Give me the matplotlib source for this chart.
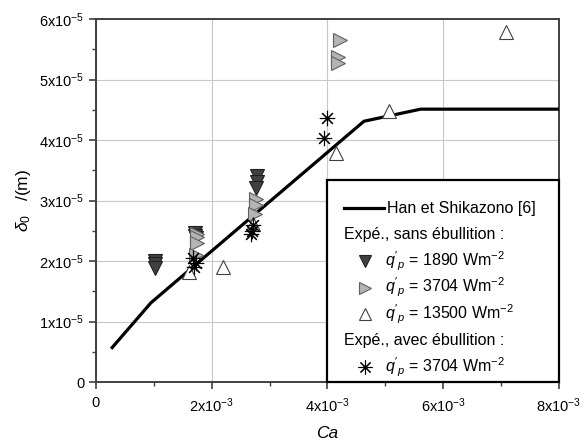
import matplotlib
matplotlib.use("Agg")
import matplotlib.pyplot as plt
from matplotlib.patches import Rectangle
from matplotlib.ticker import MultipleLocator

plt.rcParams['font.family'] = ['Liberation Sans', 'DejaVu Sans']
plt.rcParams['mathtext.fontset'] = 'custom'
plt.rcParams['mathtext.rm'] = 'Liberation Sans'
plt.rcParams['mathtext.it'] = 'Liberation Sans:italic'

# Han et Shikazono correlation
han_ca = [0.28e-3, 0.95e-3, 4.63e-3, 5.61e-3, 8.0e-3]
han_delta = [0.57e-5, 1.31e-5, 4.31e-5, 4.51e-5, 4.51e-5]

# Expe. sans ebullition, q'p = 1890
ca_1890 = [1.02e-3, 1.02e-3, 1.02e-3, 1.71e-3, 1.71e-3, 1.72e-3,
           2.78e-3, 2.78e-3, 2.77e-3]
d_1890 = [2.0e-5, 1.95e-5, 1.88e-5, 2.47e-5, 2.42e-5, 2.38e-5,
          3.4e-5, 3.3e-5, 3.2e-5]

# q'p = 3704
ca_3704 = [1.75e-3, 1.75e-3, 1.74e-3, 1.73e-3, 2.76e-3, 2.76e-3, 2.75e-3,
           4.22e-3, 4.19e-3, 4.18e-3]
d_3704 = [2.45e-5, 2.4e-5, 2.3e-5, 2.1e-5, 3.02e-5, 2.92e-5, 2.78e-5,
          5.65e-5, 5.38e-5, 5.28e-5]

# q'p = 13500
ca_13500 = [1.6e-3, 2.2e-3, 2.72e-3, 4.15e-3, 5.06e-3, 7.08e-3]
d_13500 = [1.82e-5, 1.9e-5, 2.62e-5, 3.78e-5, 4.48e-5, 5.79e-5]

# Expe. avec ebullition, q'p = 3704
ca_boil = [1.68e-3, 1.72e-3, 1.70e-3, 2.72e-3, 2.70e-3, 2.68e-3, 3.99e-3, 3.94e-3]
d_boil = [2.05e-5, 1.97e-5, 1.9e-5, 2.6e-5, 2.5e-5, 2.45e-5, 4.36e-5, 4.04e-5]

xticks = [0, 2e-3, 4e-3, 6e-3, 8e-3]
xlabels = ['0', r'2x10$^{-3}$', r'4x10$^{-3}$', r'6x10$^{-3}$', r'8x10$^{-3}$']
yticks = [0, 1e-5, 2e-5, 3e-5, 4e-5, 5e-5, 6e-5]
ylabels = ['0'] + [r'%dx10$^{-5}$' % i for i in range(1, 7)]

fig = plt.figure(figsize=(5.87, 4.44), dpi=100)
ax = fig.add_axes([0.1635, 0.1396, 0.7888, 0.8176])

ax.plot(han_ca, han_delta, color='black', lw=2.3, zorder=3)
ax.plot(ca_1890, d_1890, 'v', ms=9.5, mfc='#404040', mec='#202020', mew=0.8, zorder=4)
ax.plot(ca_3704, d_3704, '>', ms=9.5, mfc='#b4b4b4', mec='#606060', mew=0.8, zorder=4)
ax.plot(ca_13500, d_13500, '^', ms=10, mfc='white', mec='#404040', mew=0.8, zorder=4)
ax.plot(ca_boil, d_boil, ls='none', marker=(8, 2, 0), ms=11, mec='black', mew=0.8, zorder=5)

ax.set_xlim(0, 8e-3)
ax.set_ylim(0, 6e-5)
ax.set_xticks(xticks)
ax.set_xticklabels(xlabels)
ax.set_yticks(yticks)
ax.set_yticklabels(ylabels)
ax.xaxis.set_minor_locator(MultipleLocator(1e-3))
ax.yaxis.set_minor_locator(MultipleLocator(0.5e-5))
ax.tick_params(which='major', direction='out', length=5, width=1.2, colors='#404040',
               labelcolor='black', labelsize=10.5)
ax.tick_params(which='minor', direction='out', length=3, width=1.0, colors='#404040')
ax.tick_params(axis='x', pad=5)
ax.grid(True, which='major', color='#c8c8c8', lw=0.8)
ax.set_axisbelow(True)
for s in ax.spines.values():
    s.set_color('#404040')
    s.set_linewidth(1.4)

ax.set_xlabel('Ca', style='italic', fontsize=12.5, labelpad=8)
ax.set_ylabel(r'$\delta_0$   /(m)', fontsize=12.5, labelpad=4)

# legend box drawn by hand (header rows have no key)
T = ax.transAxes
def fx(px):
    return (px - 96) / 463.0
def fy(py):
    return (382 - py) / 363.0

ax.add_patch(Rectangle((fx(327), 0), 1 - fx(327), fy(180), transform=T,
                       facecolor='white', edgecolor='black', lw=1.6, zorder=10, clip_on=False))
rows = [208, 234.5, 261, 287.5, 314, 340.5, 367]
kw = dict(transform=T, fontsize=11.5, va='center', ha='left', zorder=11)
ax.plot([fx(344), fx(384)], [fy(rows[0])] * 2, color='black', lw=2.3, transform=T, zorder=11, clip_on=False)
ax.text(fx(387), fy(rows[0]), 'Han et Shikazono [6]', **kw)
ax.text(fx(344), fy(rows[1]), 'Expé., sans ébullition :', **kw)
ax.plot(fx(365), fy(rows[2]), 'v', ms=9, mfc='#404040', mec='#202020', mew=0.8, transform=T, zorder=11, clip_on=False)
ax.text(fx(385), fy(rows[2]), r"$q'_p$ = 1890 Wm$^{-2}$", **kw)
ax.plot(fx(365), fy(rows[3]), '>', ms=9, mfc='#b4b4b4', mec='#606060', mew=0.8, transform=T, zorder=11, clip_on=False)
ax.text(fx(385), fy(rows[3]), r"$q'_p$ = 3704 Wm$^{-2}$", **kw)
ax.plot(fx(365), fy(rows[4]), '^', ms=9, mfc='white', mec='#404040', mew=0.8, transform=T, zorder=11, clip_on=False)
ax.text(fx(385), fy(rows[4]), r"$q'_p$ = 13500 Wm$^{-2}$", **kw)
ax.text(fx(344), fy(rows[5]), 'Expé., avec ébullition :', **kw)
ax.plot(fx(365), fy(rows[6]), ls='none', marker=(8, 2, 0), ms=10, mec='black', mew=0.8, transform=T, zorder=11, clip_on=False)
ax.text(fx(385), fy(rows[6]), r"$q'_p$ = 3704 Wm$^{-2}$", **kw)

fig.savefig('out.png', dpi=100)
